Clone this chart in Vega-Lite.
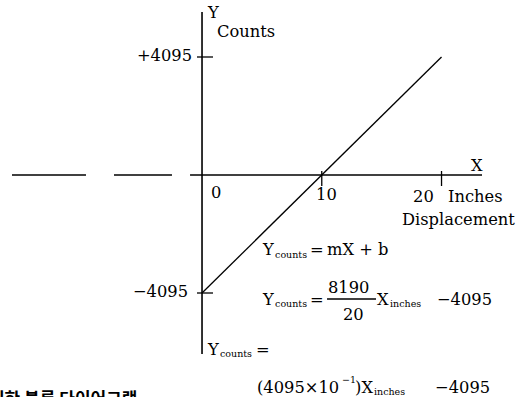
{
  "$schema": "https://vega.github.io/schema/vega-lite/v6.json",
  "width": 522,
  "height": 397,
  "autosize": {"type": "none"},
  "padding": 0,
  "background": "white",
  "config": {"view": {"stroke": null}},
  "datasets": {
    "axes": [
      {"part": "x-axis", "x": -15.87, "x2": -9.69, "y": 0, "y2": 0},
      {"part": "x-axis", "x": -7.35, "x2": -2.51, "y": 0, "y2": 0},
      {"part": "x-axis", "x": -1.0, "x2": 23.38, "y": 0, "y2": 0},
      {"part": "y-axis", "x": 0, "x2": 0, "y": 5656, "y2": -6211}
    ],
    "ticks": [
      {"x": -0.42, "x2": 0.92, "y": 4095, "y2": 4095},
      {"x": -0.42, "x2": 0.92, "y": -4095, "y2": -4095},
      {"x": 10, "x2": 10, "y": 139, "y2": -382},
      {"x": 20, "x2": 20, "y": 139, "y2": -382},
      {"x": 10.44, "x2": 14.53, "y": -4303, "y2": -4303}
    ],
    "series": [
      {"x": 0, "y": -4095},
      {"x": 20, "y": 4095}
    ],
    "main": [
      {"x": 0.50, "y": 5448, "t": "Y"},
      {"x": 1.25, "y": 4789, "t": "Counts"},
      {"x": 0.75, "y": -798, "t": "0"},
      {"x": 9.52, "y": -868, "t": "10"},
      {"x": 17.62, "y": -937, "t": "20"},
      {"x": 22.46, "y": 139, "t": "X"},
      {"x": 20.54, "y": -937, "t": "Inches"},
      {"x": 16.70, "y": -1735, "t": "Displacement"},
      {"x": 5.09, "y": -2776, "t": "Y"},
      {"x": 9.02, "y": -2776, "t": "="},
      {"x": 10.44, "y": -2776, "t": "mX + b"},
      {"x": 5.09, "y": -4511, "t": "Y"},
      {"x": 9.02, "y": -4511, "t": "="},
      {"x": 10.52, "y": -4095, "t": "8190"},
      {"x": 11.77, "y": -5032, "t": "20"},
      {"x": 14.61, "y": -4511, "t": "X"},
      {"x": 19.62, "y": -4511, "t": "−4095"},
      {"x": 0.50, "y": -6246, "t": "Y"},
      {"x": 4.51, "y": -6246, "t": "="},
      {"x": 4.59, "y": -7565, "t": "(4095×10"},
      {"x": 12.78, "y": -7565, "t": ")X"},
      {"x": 19.46, "y": -7565, "t": "−4095"}
    ],
    "tickLabels": [
      {"x": -0.835, "y": 3956, "t": "+4095"},
      {"x": -1.17, "y": -4233, "t": "−4095"}
    ],
    "small": [
      {"x": 6.10, "y": -2880, "t": "counts"},
      {"x": 6.10, "y": -4580, "t": "counts"},
      {"x": 15.70, "y": -4580, "t": "inches"},
      {"x": 1.50, "y": -6315, "t": "counts"},
      {"x": 14.36, "y": -7634, "t": "inches"},
      {"x": 11.69, "y": -7218, "t": "−1"}
    ],
    "caption": [
      {"x": -17.79, "y": -7981, "t": "위한 블록 다이어그램"}
    ]
  },
  "encoding": {
    "x": {"field": "x", "type": "quantitative", "scale": {"domain": [-16.87, 26.72], "nice": false, "zero": false}, "axis": null},
    "y": {"field": "y", "type": "quantitative", "scale": {"domain": [-7704, 6073], "nice": false, "zero": false}, "axis": null}
  },
  "layer": [
    {
      "data": {"name": "axes"},
      "mark": {"type": "rule", "color": "black", "strokeWidth": 1.6},
      "encoding": {"x2": {"field": "x2"}, "y2": {"field": "y2"}}
    },
    {
      "data": {"name": "ticks"},
      "mark": {"type": "rule", "color": "black", "strokeWidth": 1.3},
      "encoding": {"x2": {"field": "x2"}, "y2": {"field": "y2"}}
    },
    {
      "data": {"name": "series"},
      "mark": {"type": "line", "color": "black", "strokeWidth": 1.3}
    },
    {
      "data": {"name": "main"},
      "mark": {"type": "text", "align": "left", "baseline": "alphabetic", "font": "DejaVu Serif", "fontSize": 16.3, "color": "black"},
      "encoding": {"text": {"field": "t"}}
    },
    {
      "data": {"name": "tickLabels"},
      "mark": {"type": "text", "align": "right", "baseline": "alphabetic", "font": "DejaVu Serif", "fontSize": 16.3, "color": "black"},
      "encoding": {"text": {"field": "t"}}
    },
    {
      "data": {"name": "small"},
      "mark": {"type": "text", "align": "left", "baseline": "alphabetic", "font": "DejaVu Serif", "fontSize": 9.5, "color": "black"},
      "encoding": {"text": {"field": "t"}}
    },
    {
      "data": {"name": "caption"},
      "mark": {"type": "text", "align": "left", "baseline": "alphabetic", "font": "Noto Sans CJK KR", "fontWeight": "bold", "fontSize": 17, "color": "black"},
      "encoding": {"text": {"field": "t"}}
    }
  ]
}
